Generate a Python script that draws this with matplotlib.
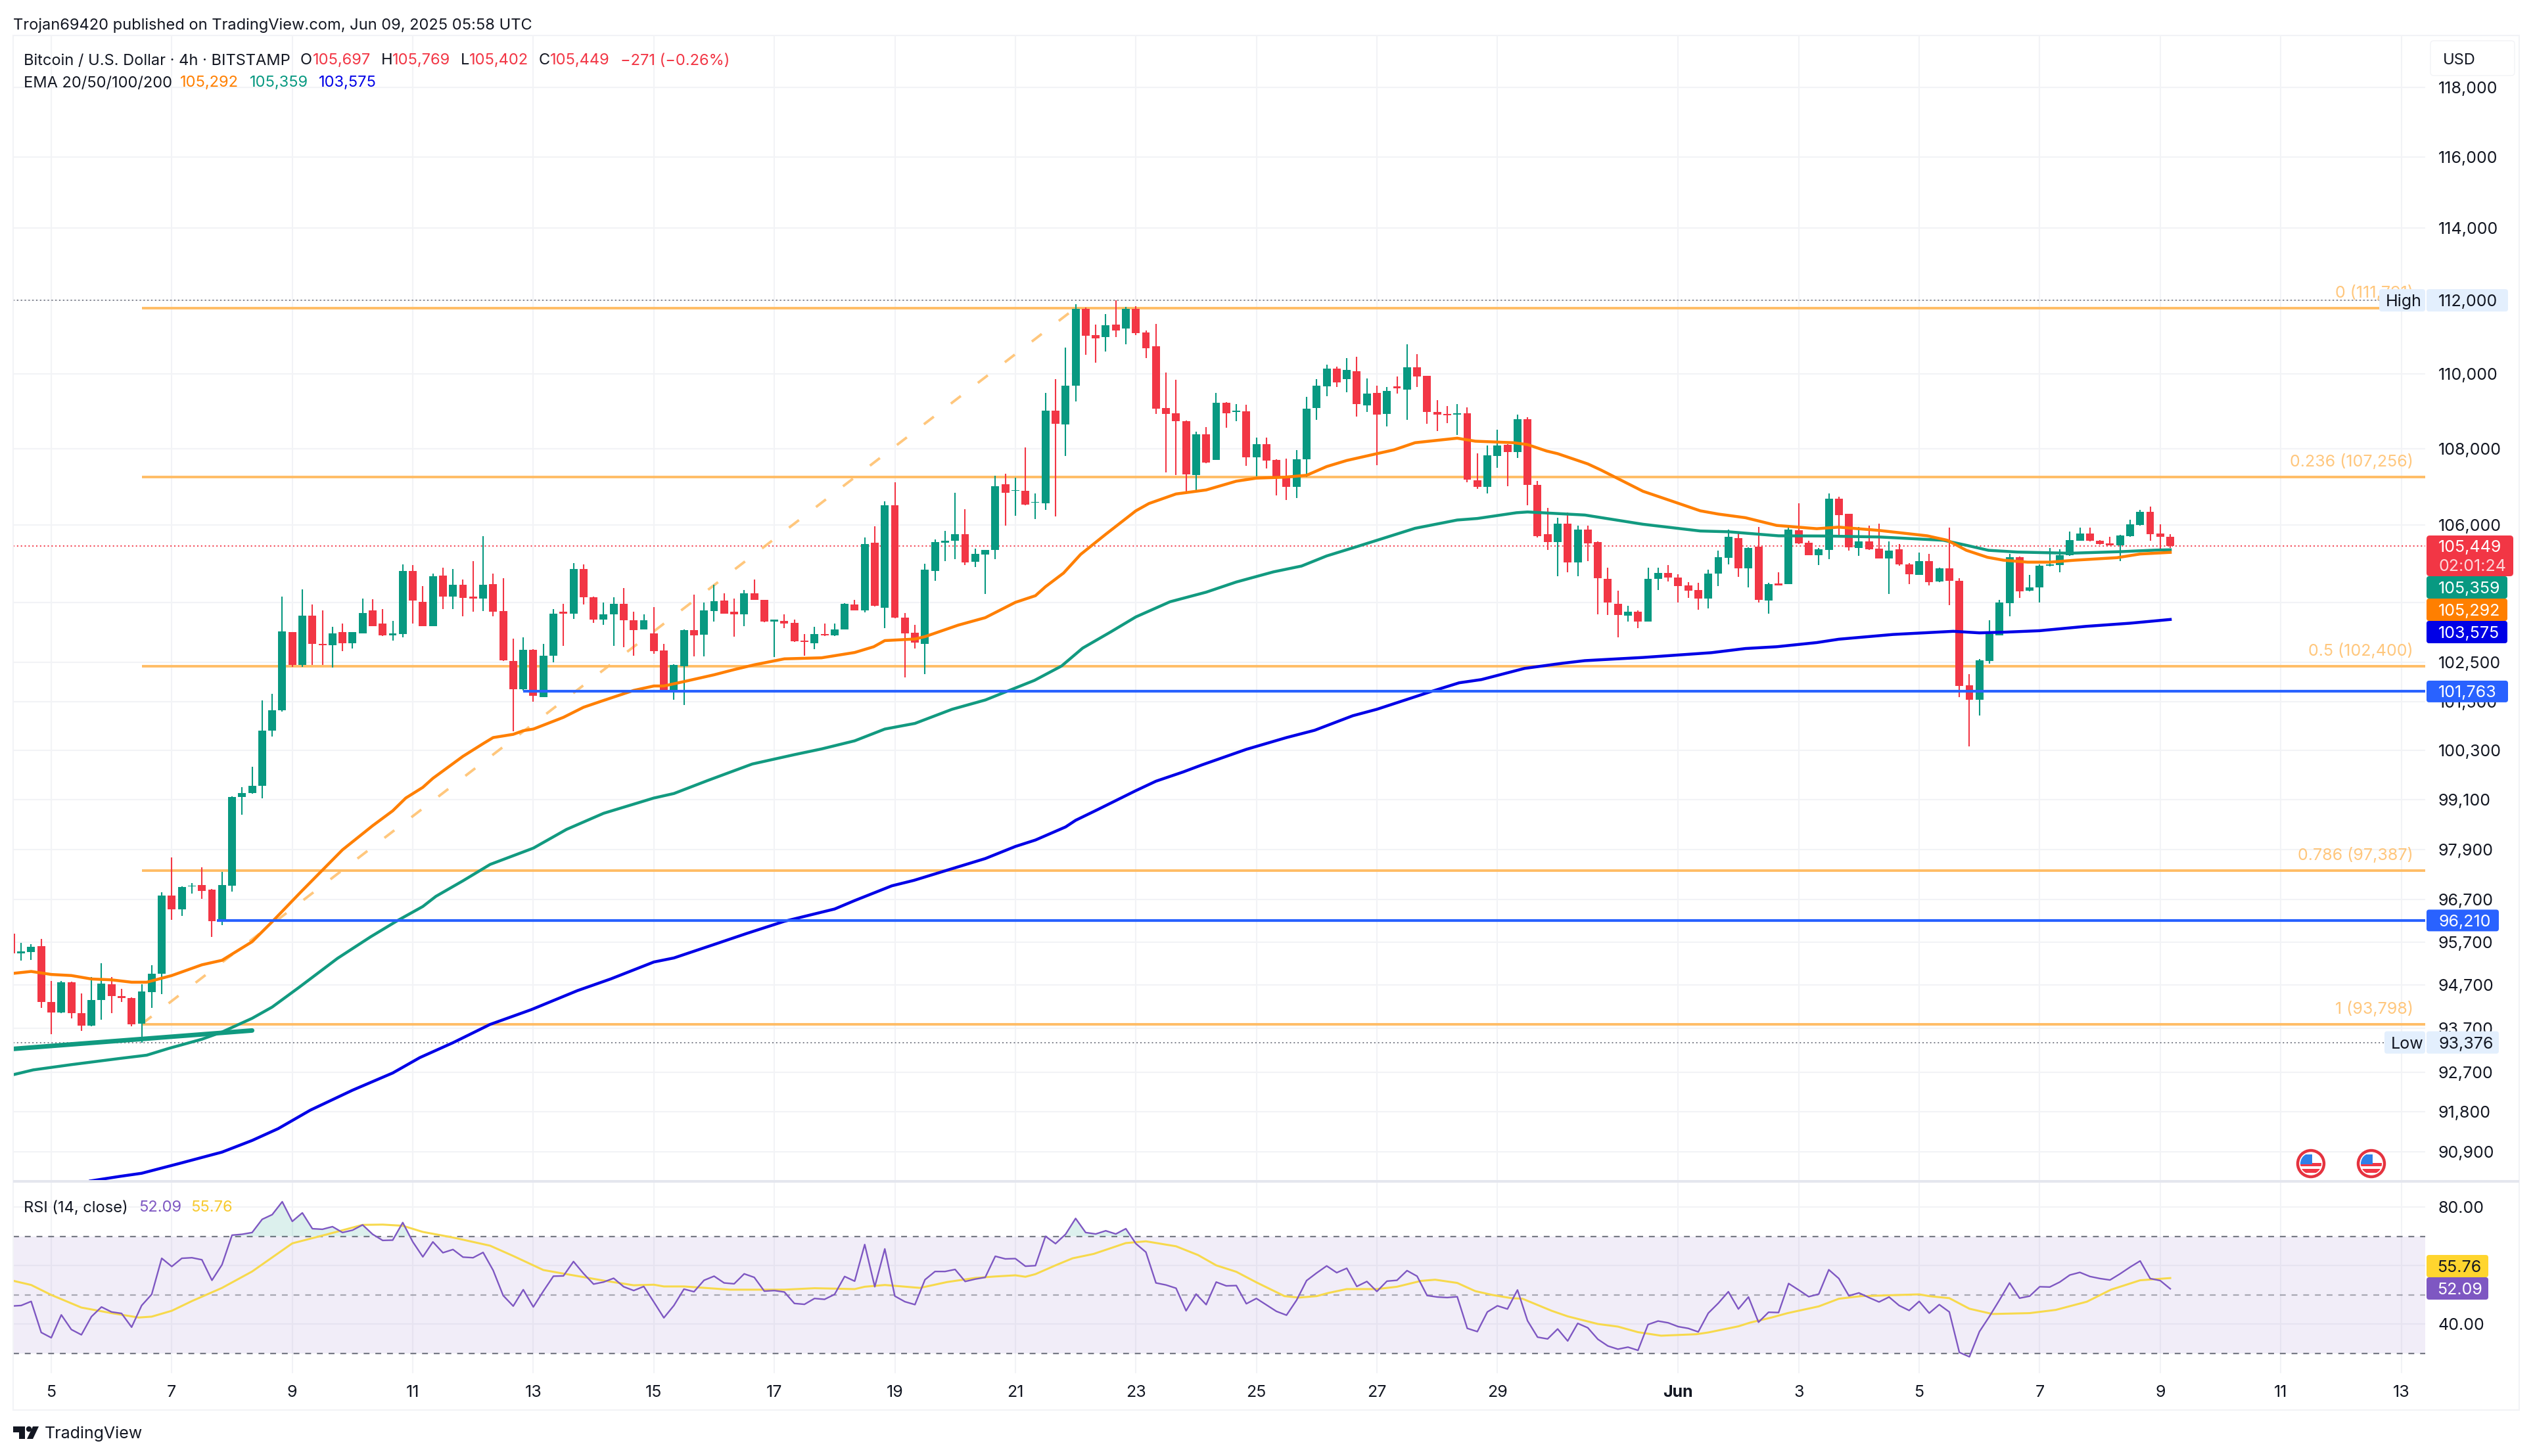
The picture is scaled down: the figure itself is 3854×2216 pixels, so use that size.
import matplotlib
matplotlib.use("Agg")
import matplotlib.pyplot as plt
from matplotlib.patches import Rectangle, Circle, Polygon, FancyBboxPatch

W, H = 3854, 2216
plt.rcParams['font.family'] = ['Inter', 'DejaVu Sans']

GREEN = "#089981"
RED = "#f23645"
ORANGE = "#ff7f00"
BLUE = "#0000e6"
FIB = "#ffbd66"
LINE_BLUE = "#2962ff"
GRID = "#f2f3f6"
TEXT = "#131722"

# candles, index 0 = May 5 00:00, one per 4h, first one is index -4. ten per row
first_idx = -4
direction = ("RGGRRGRRGG" "RRRGGGRGGR" "RGGGGGGGRG" "RRGRGGRRGG" "RRGRGRRGRR"
             "RGRGGRGRRG" "GRRGRRGGRG" "GRRGRRGRRR" "GRGGRGRGRR" "RGGGGRGGGR"
             "GRGGRGGRRG" "RGRRRRRRGR" "GRGRGRRRGG" "GGRGRGRGRG" "RRRRGRRGGR"
             "GRRRGRGRRR" "RGRGGRRRRG" "GGRGRGRGRR" "GGRRGRRGRR" "GRGRRRGGGG"
             "RGGGGGGRRR" "GGGRRR")
body_tops = [95900, 95487, 95590, 95613, 94307, 94760, 94760, 94053, 94354, 94730,
             94720, 94450, 94400, 94550, 94960, 96797, 96797, 97000, 97040, 97056,
             96935, 97056, 99165, 99260, 99430, 100787, 101290, 103270, 103250, 103680,
             103680, 102950, 103230, 103250, 103250, 103745, 103810, 103465, 103220, 104810,
             104810, 104020, 104675, 104700, 104460, 104460, 104160, 104460, 104480, 103790,
             102520, 102800, 102800, 102660, 103720, 103765, 104860, 104860, 104140, 103710,
             103970, 103970, 103550, 103550, 103220, 102790, 102420, 103300, 103300, 103810,
             104040, 104050, 103765, 104245, 104235, 104075, 103570, 103540, 103490, 103040,
             103200, 103200, 103325, 103970, 103960, 105515, 105540, 106520, 106520, 103630,
             103240, 104850, 105560, 105600, 105770, 105770, 105255, 105350, 107020, 107065,
             106915, 106900, 106600, 109010, 109010, 109680, 111760, 111760, 111050, 111320,
             111340, 111760, 111760, 111120, 110745, 109090, 108950, 108730, 108380, 108380,
             109220, 109220, 109010, 109000, 108120, 108120, 107710, 107280, 107730, 109060,
             109680, 110150, 110150, 110100, 110080, 109470, 109490, 109540, 109660, 110180,
             110180, 109940, 108980, 108920, 108930, 108950, 107160, 107820, 108090, 108110,
             108790, 108780, 107040, 105760, 106040, 106040, 105890, 105890, 105560, 104610,
             103980, 103770, 103770, 104610, 104755, 104770, 104650, 104450, 104330, 104750,
             105170, 105690, 105665, 105410, 105440, 104480, 104500, 105890, 105870, 105540,
             105380, 106680, 106680, 106285, 105570, 105570, 105390, 105345, 105365, 104990,
             105075, 105075, 104875, 104875, 104565, 101920, 102545, 103200, 104000, 105170,
             105170, 104395, 104955, 104975, 105220, 105615, 105775, 105775, 105600, 105520,
             105725, 106025, 106340, 106340, 105775, 105697]
body_bots = [95430, 95431, 95470, 94310, 94060, 94068, 94045, 93760, 93760, 94346,
             94450, 94400, 93790, 93800, 94530, 94955, 96475, 96475, 97010, 96910,
             96190, 96190, 97040, 99160, 99255, 99430, 100787, 101300, 102420, 102420,
             102950, 102920, 102930, 102980, 102980, 103230, 103410, 103165, 103165, 103210,
             104050, 103410, 103410, 104160, 104160, 104130, 104110, 104110, 103765, 102540,
             101820, 101820, 101660, 101620, 102660, 103720, 103730, 104140, 103570, 103570,
             103710, 103550, 103305, 103325, 102770, 101790, 101790, 102400, 103165, 103185,
             103790, 103730, 103700, 103700, 104075, 103520, 103520, 103465, 103015, 103005,
             102965, 103165, 103165, 103325, 103800, 103800, 103915, 103880, 103630, 103220,
             102990, 102950, 104820, 105540, 105600, 105035, 105045, 105240, 105350, 106840,
             106890, 106530, 106575, 106570, 108670, 108650, 109680, 111030, 110960, 110990,
             111180, 111230, 111100, 110690, 109070, 108930, 108740, 107320, 107300, 107630,
             107710, 108950, 108980, 107780, 107780, 107690, 107280, 106990, 106990, 107730,
             109090, 109660, 109770, 109860, 109180, 109160, 108910, 108930, 109620, 109580,
             109930, 108970, 108900, 108890, 108910, 107190, 106990, 106990, 107810, 107910,
             107910, 107040, 105710, 105560, 105560, 105040, 105040, 105530, 104620, 104000,
             103690, 103670, 103520, 103520, 104610, 104640, 104420, 104310, 104115, 104115,
             104740, 105155, 104885, 104885, 104065, 104050, 104450, 104480, 105525, 105220,
             105220, 105360, 106265, 105425, 105410, 105365, 105140, 105140, 104980, 104735,
             104720, 104530, 104545, 104560, 101905, 101555, 101555, 102530, 103180, 103985,
             104290, 104300, 104400, 104940, 104965, 105220, 105600, 105590, 105505, 105480,
             105475, 105710, 106000, 105765, 105690, 105449]
highs = [95905, 95684, 95645, 95770, 94800, 94790, 94780, 94507, 94880, 95210,
         94880, 94610, 94420, 94725, 95160, 96880, 97714, 97020, 97100, 97470,
         96950, 97360, 99180, 99400, 99900, 101540, 101710, 104160, 103260, 104340,
         103950, 103810, 103390, 103465, 103260, 104110, 104085, 103840, 103540, 104990,
         104960, 104430, 104750, 104890, 104860, 104590, 105070, 105710, 104750, 104620,
         103090, 103120, 102820, 102950, 103840, 103980, 105020, 104985, 104150, 104000,
         104140, 104375, 103765, 103700, 103890, 102950, 102440, 103320, 104210, 104000,
         104460, 104235, 104110, 104320, 104590, 104080, 103580, 103700, 103570, 103200,
         103390, 103465, 103465, 103985, 104070, 105670, 105960, 106610, 107120, 103740,
         103435, 105000, 105620, 105840, 106840, 106410, 105395, 105360, 107290, 107340,
         107230, 108040, 106830, 109490, 109860, 110710, 111900, 111800, 111330, 111620,
         112000, 111820, 111840, 111180, 111360, 110030, 109840, 108750, 108460, 108570,
         109480, 109240, 109190, 109170, 108290, 108300, 107720, 107740, 107970, 109390,
         109860, 110250, 110200, 110420, 110460, 109880, 109690, 109650, 109930, 110800,
         110540, 109950, 109300, 109140, 109190, 109100, 107870, 108080, 108500, 108120,
         108900, 108830, 107150, 106450, 106190, 106330, 105980, 105990, 105570, 104890,
         104300, 103920, 103810, 104890, 104900, 104960, 104730, 104530, 104510, 104850,
         105345, 105890, 105775, 105430, 105955, 104510, 104780, 105975, 106565, 105590,
         105400, 106830, 106745, 106300, 105955, 105985, 106030, 105570, 105505, 105010,
         105280, 105260, 104890, 105940, 104630, 102190, 102575, 103555, 104065, 105250,
         105180, 104705, 104975, 105400, 105365, 105825, 105925, 105935, 105610, 105700,
         105740, 106130, 106400, 106485, 106020, 105769]
lows = [95430, 95265, 95290, 94170, 93570, 94050, 93930, 93640, 93750, 93890,
        94050, 94310, 93745, 93376, 94170, 94490, 96220, 96310, 96840, 96716,
        95825, 96095, 96895, 98730, 99250, 99140, 100640, 101260, 102380, 102380,
        102420, 102420, 102360, 102770, 102840, 103230, 103400, 103160, 103040, 103120,
        103465, 103400, 103400, 103840, 103840, 103650, 103765, 103790, 103660, 102520,
        100770, 101790, 101500, 101620, 102500, 102900, 103590, 103950, 103490, 103445,
        102910, 102880, 102660, 103320, 102700, 101790, 101550, 101420, 102640, 102640,
        103520, 103720, 103140, 103410, 104070, 103510, 102630, 103360, 103010, 102660,
        102820, 103160, 103160, 103320, 103800, 103750, 103910, 103350, 103610, 102120,
        102840, 102190, 104560, 105065, 105125, 104960, 104910, 104225, 105125, 105990,
        106240, 106520, 106150, 106400, 106220, 107800, 109260, 110510, 110310, 110600,
        110990, 110800, 111050, 110420, 108920, 107370, 107300, 106840, 106910, 107620,
        107700, 108560, 108740, 107540, 107270, 107480, 106770, 106660, 106710, 107260,
        108760, 109400, 109640, 109500, 108860, 108980, 107560, 108600, 109470, 108760,
        109650, 108660, 108470, 108680, 108370, 107120, 106940, 106820, 107500, 107010,
        107760, 106520, 105670, 105360, 104680, 104780, 104680, 105060, 103700, 103690,
        103120, 103520, 103350, 103520, 104330, 104540, 104000, 104130, 103830, 103850,
        104420, 104975, 104660, 104385, 104000, 103720, 104440, 104480, 105500, 105220,
        104960, 105120, 105730, 105345, 105200, 105350, 105140, 104225, 104950, 104480,
        104720, 104435, 104530, 103935, 101630, 100410, 101170, 102455, 103170, 103650,
        104130, 104290, 104000, 104930, 104780, 105210, 105590, 105580, 105490, 105470,
        105060, 105700, 105990, 105600, 105345, 105402]

# EMA lines: candle index, price
ema20_idx = [-3.8, -2, 0, 2, 4, 6, 8, 9.5, 12, 15,
             17, 20, 22, 25, 29, 32, 34, 35.3, 37, 38,
             41, 43, 44, 46, 47, 48, 51, 53, 55, 58,
             60, 61, 63, 66, 68, 70, 73, 76.7, 80, 81.9,
             83, 86, 87, 90.3, 93, 96, 98, 99, 100.8, 102.5,
             105, 108, 109.3, 112, 115, 118, 120, 122.8, 125, 127,
             129, 132, 133.7, 135.8, 140, 141.8, 145.6, 147, 148.9, 150,
             153, 154.3, 158.5, 161.3, 164.2, 166, 168.7, 171.8, 175.8, 178,
             182, 186.8, 188.8, 190.7, 192.8, 194.4, 196.8, 199, 201.5, 205.7,
             208, 211]
ema20 = [94970, 95015, 94945, 94920, 94840, 94820, 94765, 94765, 94920, 95170,
         95275, 95710, 96180, 96920, 97890, 98470, 98830, 99140, 99400, 99620,
         100160, 100470, 100620, 100700, 100790, 100830, 101120, 101370, 101540, 101790,
         101900, 101900, 102010, 102180, 102310, 102430, 102580, 102606, 102740, 102885,
         103040, 103080, 103140, 103430, 103620, 104010, 104180, 104410, 104760, 105240,
         105760, 106370, 106560, 106810, 106915, 107145, 107225, 107250, 107300, 107530,
         107690, 107870, 107970, 108160, 108280, 108200, 108160, 108110, 107940, 107870,
         107600, 107440, 106880, 106630, 106370, 106285, 106190, 105990, 105905, 105945,
         105860, 105720, 105605, 105345, 105165, 105090, 105040, 105040, 105090, 105155,
         105250, 105292]
ema50_idx = [-3.8, -1.8, 2, 6.8, 9.5, 11.7, 15, 17, 20, 22,
             24.7, 28.5, 31.8, 34.5, 37, 38.3, 41, 43.7, 48, 51.3,
             55, 60, 62, 65.4, 69.8, 74, 76.7, 80, 83, 86,
             89.7, 93, 97.9, 100.6, 102.7, 105.5, 108, 111.4, 115, 118,
             121.7, 124.5, 127, 130, 135.8, 140, 142, 145.9, 147, 152.7,
             158.5, 164.2, 167, 172, 176.6, 182, 188.4, 190.7, 192.9, 195.8,
             201, 206, 209.5, 211]
ema50 = [92640, 92750, 92870, 93010, 93085, 93240, 93450, 93615, 93930, 94190,
         94650, 95320, 95825, 96210, 96540, 96780, 97150, 97540, 97930, 98380,
         98770, 99140, 99250, 99570, 99970, 100200, 100340, 100540, 100830, 100970,
         101320, 101550, 102040, 102400, 102850, 103260, 103640, 104025, 104270, 104530,
         104790, 104940, 105200, 105440, 105915, 106130, 106170, 106320, 106340, 106260,
         106020, 105845, 105825, 105720, 105715, 105690, 105605, 105475, 105345, 105300,
         105270, 105310, 105350, 105359]
ema200_idx = [3.9, 6.8, 9, 12.8, 17, 20, 22.6, 25.8, 30, 34,
              36.7, 40, 43.7, 47.8, 52.4, 55.7, 60, 62, 66, 69.2,
              73, 78, 80, 83.7, 85.9, 89, 93, 96, 98, 101,
              102, 104.2, 108, 110, 112.7, 114.6, 119, 123, 125.8, 129.6,
              132, 137.5, 140.2, 142.4, 146.7, 150.5, 152.7, 158.5, 165.3, 168.7,
              171.8, 175.8, 178, 183.4, 189.4, 192, 194.7, 198, 202.6, 207,
              211]
ema200 = [90260, 90360, 90430, 90650, 90900, 91160, 91425, 91840, 92290, 92680,
          93030, 93370, 93790, 94130, 94570, 94840, 95235, 95330, 95645, 95900,
          96190, 96480, 96680, 97030, 97160, 97387, 97680, 97970, 98125, 98440,
          98600, 98860, 99320, 99550, 99775, 99950, 100330, 100620, 100800, 101160,
          101320, 101770, 101980, 102060, 102340, 102470, 102535, 102615, 102735, 102840,
          102885, 102990, 103075, 103195, 103275, 103235, 103255, 103290, 103400, 103480,
          103575]

# rsi per candle
rsi = [46.2, 46.4, 47.8, 37.2, 35.4, 43.2, 38.2, 36.4, 42.6, 45.9,
       44.2, 43.7, 39.0, 46.4, 50.2, 62.5, 59.7, 62.5, 62.7, 62.0,
       55.0, 60.3, 70.4, 70.7, 71.3, 75.8, 77.4, 81.8, 75.1, 78.0,
       72.6, 72.4, 73.3, 71.3, 72.1, 73.9, 70.7, 68.6, 68.7, 74.7,
       68.1, 63.0, 68.1, 64.4, 65.5, 62.9, 62.7, 64.5, 58.4, 49.8,
       46.2, 51.8, 45.9, 51.3, 56.4, 56.5, 61.4, 57.3, 53.7, 54.4,
       55.7, 52.8, 51.5, 52.9, 47.6, 42.2, 46.4, 52.0, 51.1, 55.0,
       56.4, 54.1, 53.8, 57.2, 56.0, 51.3, 51.5, 51.0, 47.1, 46.8,
       48.8, 48.5, 50.2, 56.3, 54.7, 67.2, 52.8, 65.7, 49.6, 47.7,
       46.7, 55.2, 58.0, 58.0, 58.7, 54.6, 55.4, 56.0, 63.2, 62.3,
       62.4, 59.8, 60.0, 70.0, 67.5, 70.7, 76.1, 71.3, 70.8, 71.9,
       70.8, 72.6, 67.5, 64.6, 54.1, 53.4, 52.3, 44.6, 50.3, 46.7,
       54.4, 53.1, 53.2, 47.0, 48.8, 46.6, 44.4, 43.1, 48.2, 54.9,
       57.5, 59.9, 57.6, 59.1, 52.9, 54.6, 51.2, 54.7, 55.0, 58.3,
       56.4, 49.8, 49.3, 49.1, 49.4, 38.6, 37.5, 44.2, 46.3, 45.2,
       51.7, 41.2, 35.6, 35.0, 38.4, 34.3, 40.3, 38.8, 34.9, 32.6,
       31.5, 32.2, 31.1, 39.9, 41.1, 40.5, 39.2, 38.6, 37.4, 43.8,
       47.2, 51.1, 45.2, 49.3, 40.7, 44.1, 44.0, 53.9, 51.7, 49.4,
       50.3, 58.6, 55.6, 49.7, 50.7, 49.1, 47.6, 49.3, 46.4, 44.7,
       47.8, 43.8, 46.7, 44.2, 30.4, 28.9, 37.5, 42.7, 48.3, 54.1,
       48.9, 49.6, 52.8, 52.7, 54.4, 56.8, 57.7, 56.3, 55.6, 55.1,
       57.2, 59.5, 61.6, 55.6, 54.9, 52.09]
rsi_ma_idx = [-4, -2, 0, 3, 6, 8.7, 10, 12, 14, 17,
              20, 24, 27.5, 31, 33, 35, 37, 40, 43.7, 46,
              49, 51.3, 55, 58, 60, 61, 63, 67.6, 73, 76,
              80, 81, 83, 86.5, 89.2, 92, 94, 96, 97, 98,
              100, 101.7, 103.8, 107, 109, 112, 114.2, 116, 118, 120,
              122.8, 124.2, 126, 127.2, 129, 132, 134, 136.4, 137.8, 140,
              141.8, 143.5, 145.4, 146.5, 149.4, 151, 154, 156, 158, 160.3,
              163.8, 165, 168, 169.2, 171.3, 172.9, 176, 178, 180.2, 186,
              187, 189, 191, 193.3, 197, 199.6, 202.7, 205.1, 208, 211]
rsi_ma = [55.0, 53.4, 50.0, 45.7, 43.8, 42.3, 42.6, 44.6, 47.9, 52.4,
          58.0, 67.6, 70.7, 73.9, 74.0, 73.6, 71.5, 69.6, 66.8, 63.3,
          58.5, 57.1, 54.9, 53.3, 53.5, 52.9, 52.9, 51.8, 51.8, 52.3,
          52.0, 52.8, 53.4, 52.4, 54.4, 55.8, 56.3, 56.7, 56.2, 57.1,
          60.1, 62.5, 64.0, 67.7, 68.3, 66.6, 63.6, 60.1, 57.9, 54.3,
          49.6, 49.1, 49.6, 50.7, 52.0, 52.0, 52.8, 54.8, 55.2, 54.1,
          51.3, 50.0, 48.9, 48.7, 44.6, 42.7, 40.1, 39.2, 37.3, 36.1,
          36.6, 37.2, 39.3, 40.6, 42.3, 43.8, 46.1, 48.7, 49.6, 50.2,
          49.6, 48.9, 45.3, 43.5, 43.8, 44.9, 47.7, 51.8, 55.0, 55.76]

# fib tool
fib_levels = [111791, 107256, 102400, 97387, 93798]
fib_labels = ["0 (111,791)", "0.236 (107,256)", "0.5 (102,400)", "0.786 (97,387)", "1 (93,798)"]
fib_start = 9
fib_end = 102

price_ticks = [118000, 116000, 114000, 112000, 110000, 108000, 106000, 104000, 102500, 101500, 100300, 99100, 97900, 96700,
               95700, 94700, 93700, 92700, 91800, 90900]
hidden_ticks = [112000, 104000]  # covered by the badges in the reference
day_ticks = [0, 12, 24, 36, 48, 60, 72, 84, 96, 108, 120, 132, 144, 162, 174, 186, 198, 210, 222, 234]
day_labels = ["5", "7", "9", "11", "13", "15", "17", "19", "21", "23", "25", "27", "29", "Jun", "3", "5", "7", "9", "11", "13"]

trend_idx = [-4, 20]
trend_price = [93225, 93650]
sr_levels = [96210, 101763]
sr_start = [16.5, 47]
last_close = 105449
high_price = 112000
low_price = 93376

PX_PER_CANDLE = 15.28
x_left = (20 - 78) / PX_PER_CANDLE
x_right = (3690 - 78) / PX_PER_CANDLE

fig = plt.figure(figsize=(W / 100, H / 100), dpi=100, facecolor="white")
ax = fig.add_axes([20 / W, 1 - 1796 / H, 3670 / W, 1742 / H])
ax_rsi = fig.add_axes([20 / W, 1 - 2090 / H, 3670 / W, 290 / H])

idx = list(range(first_idx, first_idx + len(body_tops)))
colors = [GREEN if d == "G" else RED for d in direction]

ax.set_yscale("log")
ax.set_xlim(x_left, x_right)
ax.set_ylim(90280, 119511)
ax.yaxis.tick_right()
ax.minorticks_off()
ax.set_yticks(price_ticks)
ax.set_yticklabels(["" if p in hidden_ticks else "{:,}".format(p) for p in price_ticks], fontsize=18, color=TEXT)
ax.tick_params(axis="y", length=0, pad=14)
ax.set_xticks(day_ticks)
ax.tick_params(axis="x", length=0, labelbottom=False)
ax.grid(True, color=GRID, lw=1.5, zorder=0)
ax.set_axisbelow(True)
for s in ax.spines.values():
    s.set_visible(False)

ax.axhline(high_price, color="#787b86", lw=1.4, ls=(0, (1, 2)), zorder=1)
ax.axhline(low_price, color="#787b86", lw=1.4, ls=(0, (1, 2)), zorder=1)
ax.axhline(last_close, color=RED, lw=1.4, ls=(0, (1, 2)), zorder=1)

for lvl, lab in zip(fib_levels, fib_labels):
    ax.plot([fib_start, x_right], [lvl, lvl], color=FIB, lw=2.8, zorder=2, solid_capstyle="butt")
    ax.annotate(lab, (x_right, lvl), xytext=(-13, 16.5), textcoords="offset points", ha="right", va="center",
                color=FIB, alpha=0.85, fontsize=18, zorder=2)
ax.plot([fib_start, fib_end], [fib_levels[-1], fib_levels[0]], color=FIB, lw=2.8, alpha=0.85, ls=(0, (4.9, 8.4)), zorder=2)

ax.vlines(idx, lows, highs, colors=colors, lw=1.5, zorder=3)
heights = [max(t - b, 25) for t, b in zip(body_tops, body_bots)]
ax.bar(idx, heights, bottom=body_bots, width=0.78, color=colors, lw=0, zorder=3.1)

ax.plot(ema200_idx, ema200, color=BLUE, lw=3.2, zorder=4)
ax.plot(ema50_idx, ema50, color="#129a80", lw=3.2, zorder=4)
ax.plot(ema20_idx, ema20, color=ORANGE, lw=3.2, zorder=4)
ax.plot(trend_idx, trend_price, color="#109a80", lw=5, solid_capstyle="round", zorder=4)
for lvl, st in zip(sr_levels, sr_start):
    ax.plot([st, x_right], [lvl, lvl], color=LINE_BLUE, lw=3, zorder=4, solid_capstyle="butt")

# rsi pane
ax_rsi.set_xlim(x_left, x_right)
ax_rsi.set_ylim(23.3, 88.3)
ax_rsi.yaxis.tick_right()
ax_rsi.set_yticks([80, 60, 40])
ax_rsi.set_yticklabels(["80.00", "", "40.00"], fontsize=18, color=TEXT)
ax_rsi.tick_params(axis="y", length=0, pad=14)
ax_rsi.set_xticks(day_ticks)
ax_rsi.set_xticklabels(day_labels, fontsize=18, color=TEXT)
ax_rsi.get_xticklabels()[day_labels.index("Jun")].set_fontweight("bold")
ax_rsi.tick_params(axis="x", length=0, pad=13)
ax_rsi.grid(True, color=GRID, lw=1.5, zorder=0)
ax_rsi.set_axisbelow(True)
for s in ax_rsi.spines.values():
    s.set_visible(False)

ax_rsi.axhspan(30, 70, color="#7e57c2", alpha=0.1, lw=0, zorder=1)
ax_rsi.axhline(70, color="#787b86", lw=1.6, ls=(0, (4, 4)), zorder=2)
ax_rsi.axhline(50, color="#787b86", lw=1.6, alpha=0.6, ls=(0, (4, 4)), zorder=2)
ax_rsi.axhline(30, color="#787b86", lw=1.6, ls=(0, (4, 4)), zorder=2)
ax_rsi.fill_between(idx, 70, rsi, where=[r >= 70 for r in rsi], interpolate=True, color=GREEN, alpha=0.14, lw=0, zorder=2)
ax_rsi.plot(rsi_ma_idx, rsi_ma, color="#f7d94c", lw=2.2, zorder=3)
ax_rsi.plot(idx, rsi, color="#7e57c2", lw=1.7, zorder=4)

# chrome on top, pixel coordinates
ov = fig.add_axes([0, 0, 1, 1], zorder=5)
ov.set_xlim(0, W)
ov.set_ylim(H, 0)
ov.axis("off")
ov.patch.set_alpha(0)


def price_px(p):
    return H - ax.transData.transform((0, p))[1]


def badge(x0, x1, yc, h, color, label, tcolor="white", tx=3710):
    ov.add_patch(FancyBboxPatch((x0 + 4, yc - h / 2 + 4), x1 - x0 - 8, h - 8, boxstyle="round,pad=4",
                                fc=color, ec="none", zorder=6))
    ov.text(tx, yc, label, color=tcolor, fontsize=18, va="center_baseline", ha="left", zorder=7)


ov.add_patch(Rectangle((20, 54), 3813, 2092, fc="none", ec="#f2f3f6", lw=1.5, zorder=1))
ov.add_patch(Rectangle((20, 1796), 3813, 4, fc="#e4e6ee", ec="none", zorder=2))

ov.add_patch(FancyBboxPatch((3703, 67), 118, 43, boxstyle="round,pad=5", fc="white", ec="#f2f3f6", lw=1, zorder=3))
ov.text(3717, 89, "USD", color=TEXT, fontsize=17, va="center_baseline", zorder=4)

ov.add_patch(FancyBboxPatch((3692, 815), 132, 62, boxstyle="round,pad=0,rounding_size=5", fc=RED, ec="none", zorder=6))
ov.text(3710, 831, "105,449", color="white", fontsize=18, va="center_baseline", zorder=7)
ov.text(3710, 860, "02:01:24", color="white", alpha=0.8, fontsize=18, va="center_baseline", zorder=7)
badge(3692, 3815, 894, 34, GREEN, "105,359")
badge(3692, 3815, 928, 34, ORANGE, "105,292")
badge(3692, 3815, 962, 34, BLUE, "103,575")
badge(3692, 3816, price_px(sr_levels[1]), 33, LINE_BLUE, "101,763")
badge(3692, 3802, price_px(sr_levels[0]), 33, LINE_BLUE, "96,210")
badge(3620, 3690, price_px(high_price), 34, "#e3effd", "High", TEXT, tx=3630)
badge(3692, 3816, price_px(high_price), 34, "#e3effd", "112,000", TEXT)
badge(3628, 3690, price_px(low_price), 34, "#e3effd", "Low", TEXT, tx=3638)
badge(3692, 3802, price_px(low_price), 34, "#e3effd", "93,376", TEXT)
badge(3692, 3786, 1927, 34, "#ffd52e", "55.76", TEXT, tx=3708)
badge(3692, 3786, 1961, 34, "#7e57c2", "52.09", tx=3708)

ov.text(20, 36, "Trojan69420 published on TradingView.com, Jun 09, 2025 05:58 UTC", color=TEXT, fontsize=17, va="center_baseline")

legend_row1 = [(36, "Bitcoin / U.S. Dollar · 4h · BITSTAMP", TEXT), (457, "O", TEXT), (476, "105,697", RED), (580, "H", TEXT),
               (597, "105,769", RED), (701, "L", TEXT), (714, "105,402", RED), (820, "C", TEXT), (837, "105,449", RED),
               (944, "−271 (−0.26%)", RED)]
for x, s, c in legend_row1:
    ov.text(x, 90, s, color=c, fontsize=17, va="center_baseline")
legend_row2 = [(36, "EMA 20/50/100/200", TEXT), (274, "105,292", ORANGE), (380, "105,359", GREEN), (485, "103,575", BLUE)]
for x, s, c in legend_row2:
    ov.text(x, 124, s, color=c, fontsize=17, va="center_baseline")
legend_row3 = [(36, "RSI (14, close)", TEXT), (211, "52.09", "#7e57c2"), (290, "55.76", "#f7c92e")]
for x, s, c in legend_row3:
    ov.text(x, 1836, s, color=c, fontsize=17, va="center_baseline")


def flag(cx, cy):
    ov.add_patch(Circle((cx, cy), 20, fc="white", ec="#e5333f", lw=3.2, zorder=3))
    clip = Circle((cx, cy), 16, transform=ov.transData)
    for r in [Rectangle((cx - 16, cy - 1), 32, 5, fc=RED, ec="none"),
              Rectangle((cx - 16, cy + 8), 32, 6, fc=RED, ec="none"),
              Rectangle((cx - 16, cy - 14), 18, 15, fc="#2f7fe8", ec="none")]:
        ov.add_patch(r)
        r.set_zorder(4)
        r.set_clip_path(clip)


flag(3516, 1771)
flag(3608, 1771)

# logo
ov.add_patch(Polygon([(20, 2171), (38, 2171), (38, 2190), (29, 2190), (29, 2180), (20, 2180)], fc=TEXT, ec="none"))
ov.add_patch(Circle((44, 2175), 4.2, fc=TEXT, ec="none"))
ov.add_patch(Polygon([(50, 2171), (59, 2171), (50, 2190), (41, 2190)], fc=TEXT, ec="none"))
ov.text(68, 2180, "TradingView", color=TEXT, fontsize=18, va="center_baseline")

fig.savefig("out.png", dpi=100, facecolor="white")
